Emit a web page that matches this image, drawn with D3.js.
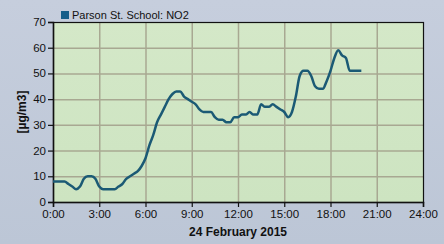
<!DOCTYPE html>
<html>
<head>
<meta charset="utf-8">
<script src="https://cdn.jsdelivr.net/npm/d3@7"></script>
<style>
  html, body { margin: 0; padding: 0; }
  body { width: 444px; height: 244px; overflow: hidden; }
  text { font-family: "Liberation Sans", Arial, sans-serif; }
</style>
</head>
<body>
<script>
// readings every 15 minutes, hours since midnight
var hours = [0,0.25,0.5,0.75,1,1.25,1.5,1.75,2,2.25,2.5,2.75,3,3.25,3.5,3.75,4,4.25,4.5,4.75,
  5,5.25,5.5,5.75,6,6.25,6.5,6.75,7,7.25,7.5,7.75,8,8.25,8.5,8.75,9,9.25,9.5,9.75,
  10,10.25,10.5,10.75,11,11.25,11.5,11.75,12,12.25,12.5,12.75,13,13.25,13.5,13.75,14,14.25,14.5,14.75,
  15,15.25,15.5,15.75,16,16.25,16.5,16.75,17,17.25,17.5,17.75,18,18.25,18.5,18.75,19,19.25,19.5,19.75,20];
var no2 = [8,8,8,8,7,6,5,6,9,10,10,9,6,5,5,5,5,6,7,9,
  10,11,12,14,17,22,26,31,34,37,40,42,43,43,41,40,39,38,36,35,
  35,35,33,32,32,31,31,33,33,34,34,35,34,34,38,37,37,38,37,36,
  35,33,35,41,49,51,51,49,45,44,44,47,51,56,59,57,56,51,51,51,51];
var xTicks = [0,3,6,9,12,15,18,21,24];
var xTickLabels = ["0:00","3:00","6:00","9:00","12:00","15:00","18:00","21:00","24:00"];
var yTicks = [0,10,20,30,40,50,60,70];
var seriesName = "Parson St. School: NO2";
var xTitle = "24 February 2015";
var yTitle = "[\u00b5g/m3]";

var W = 444, H = 244;
var margin = {top: 22, right: 21, bottom: 42, left: 53},
    width = W - margin.left - margin.right,
    height = H - margin.top - margin.bottom;

var svg = d3.select("body")
  .append("svg")
    .attr("width", W)
    .attr("height", H);

var defs = svg.append("defs");
var bg = defs.append("linearGradient").attr("id", "bg")
  .attr("x1", 0).attr("y1", 0).attr("x2", 0).attr("y2", 1);
bg.append("stop").attr("offset", "0%").attr("stop-color", "#c6cedd");
bg.append("stop").attr("offset", "100%").attr("stop-color", "#bcc6d6");
var pg = defs.append("linearGradient").attr("id", "plotbg")
  .attr("x1", 0).attr("y1", 0).attr("x2", 0).attr("y2", 1);
pg.append("stop").attr("offset", "0%").attr("stop-color", "#d4e8c8");
pg.append("stop").attr("offset", "100%").attr("stop-color", "#cde4c1");

svg.append("rect").attr("width", W).attr("height", H).attr("fill", "url(#bg)");

var g = svg.append("g")
  .attr("transform", "translate(" + margin.left + "," + margin.top + ")");

var x = d3.scaleLinear().domain([0, 24]).range([0, width]);
var y = d3.scaleLinear().domain([0, 70]).range([height, 0]);

g.append("rect")
  .attr("width", width).attr("height", height)
  .attr("fill", "url(#plotbg)");

// grid
g.append("g").selectAll("line").data(xTicks.slice(1, -1)).enter().append("line")
  .attr("x1", function(d) { return x(d) + 0.5; }).attr("x2", function(d) { return x(d) + 0.5; })
  .attr("y1", 0).attr("y2", height)
  .attr("stroke", "#a8a892").attr("stroke-width", 1.5);
g.append("g").selectAll("line").data(yTicks.slice(1, -1)).enter().append("line")
  .attr("y1", function(d) { return y(d) + 0.5; }).attr("y2", function(d) { return y(d) + 0.5; })
  .attr("x1", 0).attr("x2", width)
  .attr("stroke", "#a8a892").attr("stroke-width", 1.5);

// frame
g.append("rect").attr("x", 0.5).attr("y", 0.5)
  .attr("width", width).attr("height", height)
  .attr("fill", "none").attr("stroke", "#111").attr("stroke-width", 1.2);

// axes
var xAxis = g.append("g")
  .attr("transform", "translate(0," + height + ")")
  .call(d3.axisBottom(x).tickValues(xTicks)
    .tickFormat(function(d, i) { return xTickLabels[i]; })
    .tickSize(5).tickPadding(3));
var yAxis = g.append("g")
  .call(d3.axisLeft(y).tickValues(yTicks).tickSize(5).tickPadding(2));
[xAxis, yAxis].forEach(function(a) {
  a.select(".domain").attr("stroke", "#111").attr("stroke-width", 1.5);
  a.selectAll(".tick line").attr("stroke", "#111").attr("stroke-width", 1.2);
  a.selectAll(".tick text").attr("fill", "#111")
    .style("font-size", "11.5px").style("font-family", "\"Liberation Sans\", Arial, sans-serif");
});
yAxis.selectAll(".tick text").attr("dy", "0.3em");

// series line
var pts = hours.map(function(h, i) { return [h, no2[i]]; });
g.append("path")
  .datum(pts)
  .attr("fill", "none")
  .attr("stroke", "#1b5a75")
  .attr("stroke-width", 2.5)
  .attr("stroke-linejoin", "round")
  .attr("d", d3.line()
    .x(function(d) { return x(d[0]); })
    .y(function(d) { return y(d[1]); })
    .curve(d3.curveMonotoneX));

// legend
svg.append("rect").attr("x", 61).attr("y", 11).attr("width", 8).attr("height", 8)
  .attr("fill", "#175f8a");
svg.append("text").attr("x", 72).attr("y", 19)
  .style("font-size", "11px").attr("fill", "#111").text(seriesName);

// titles
svg.append("text")
  .attr("x", margin.left + width / 2).attr("y", 236)
  .attr("text-anchor", "middle")
  .style("font-size", "12px").style("font-weight", "bold").attr("fill", "#111")
  .text(xTitle);
svg.append("text")
  .attr("transform", "translate(26," + (margin.top + height / 2) + ") rotate(-90)")
  .attr("text-anchor", "middle")
  .style("font-size", "12px").style("font-weight", "bold").attr("fill", "#111")
  .text(yTitle);
</script>
</body>
</html>
